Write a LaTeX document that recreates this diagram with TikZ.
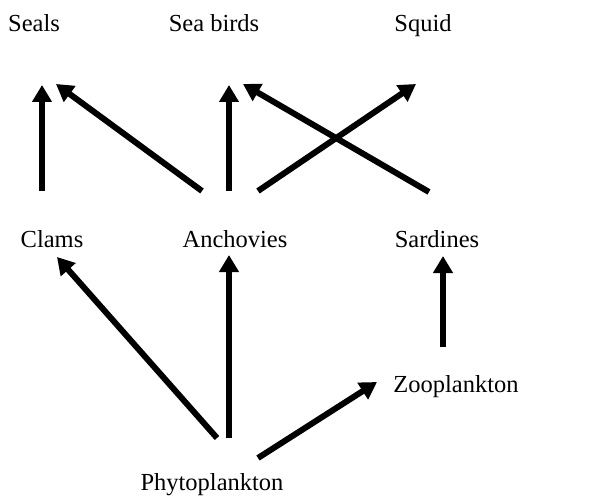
\documentclass[tikz,border=0pt]{standalone}
\usepackage{fontspec}
\setmainfont{Liberation Serif}
\usetikzlibrary{arrows.meta}
\begin{document}
\begin{tikzpicture}[x=1pt,y=-1pt,
  lbl/.style={anchor=base,inner sep=0pt,font=\fontsize{24.5}{29}\selectfont},
  arr/.style={line width=6pt,-{Triangle[length=17pt,width=19pt]}}]
\useasboundingbox (0,0) rectangle (589,500);
\node[lbl] (seals) at (34,32) {Seals};
\node[lbl] (seabirds) at (214,32) {Sea birds};
\node[lbl] (squid) at (423,32) {Squid};
\node[lbl] (clams) at (52,247) {Clams};
\node[lbl] (anchovies) at (235,247) {Anchovies};
\node[lbl] (sardines) at (437,247) {Sardines};
\node[lbl] (zoo) at (456,392) {Zooplankton};
\node[lbl] (phyto) at (212,490) {Phytoplankton};
\draw[arr] ([shift={(-10,-56)}]clams.base) -- ([shift={(8,53)}]seals.base);
\draw[arr] ([shift={(-33,-56)}]anchovies.base) -- ([shift={(22,52)}]seals.base);
\draw[arr] ([shift={(-6,-56)}]anchovies.base) -- ([shift={(15,53)}]seabirds.base);
\draw[arr] ([shift={(23,-56)}]anchovies.base) -- ([shift={(-7,52)}]squid.base);
\draw[arr] ([shift={(-8,-55)}]sardines.base) -- ([shift={(29,52)}]seabirds.base);
\draw[arr] ([shift={(5,-52)}]phyto.base) -- ([shift={(5,10)}]clams.base);
\draw[arr] ([shift={(17,-52)}]phyto.base) -- ([shift={(-6,8)}]anchovies.base);
\draw[arr] ([shift={(46,-32)}]phyto.base) -- ([shift={(-79,-10)}]zoo.base);
\draw[arr] ([shift={(-13,-45)}]zoo.base) -- ([shift={(6,9)}]sardines.base);
\end{tikzpicture}
\end{document}
